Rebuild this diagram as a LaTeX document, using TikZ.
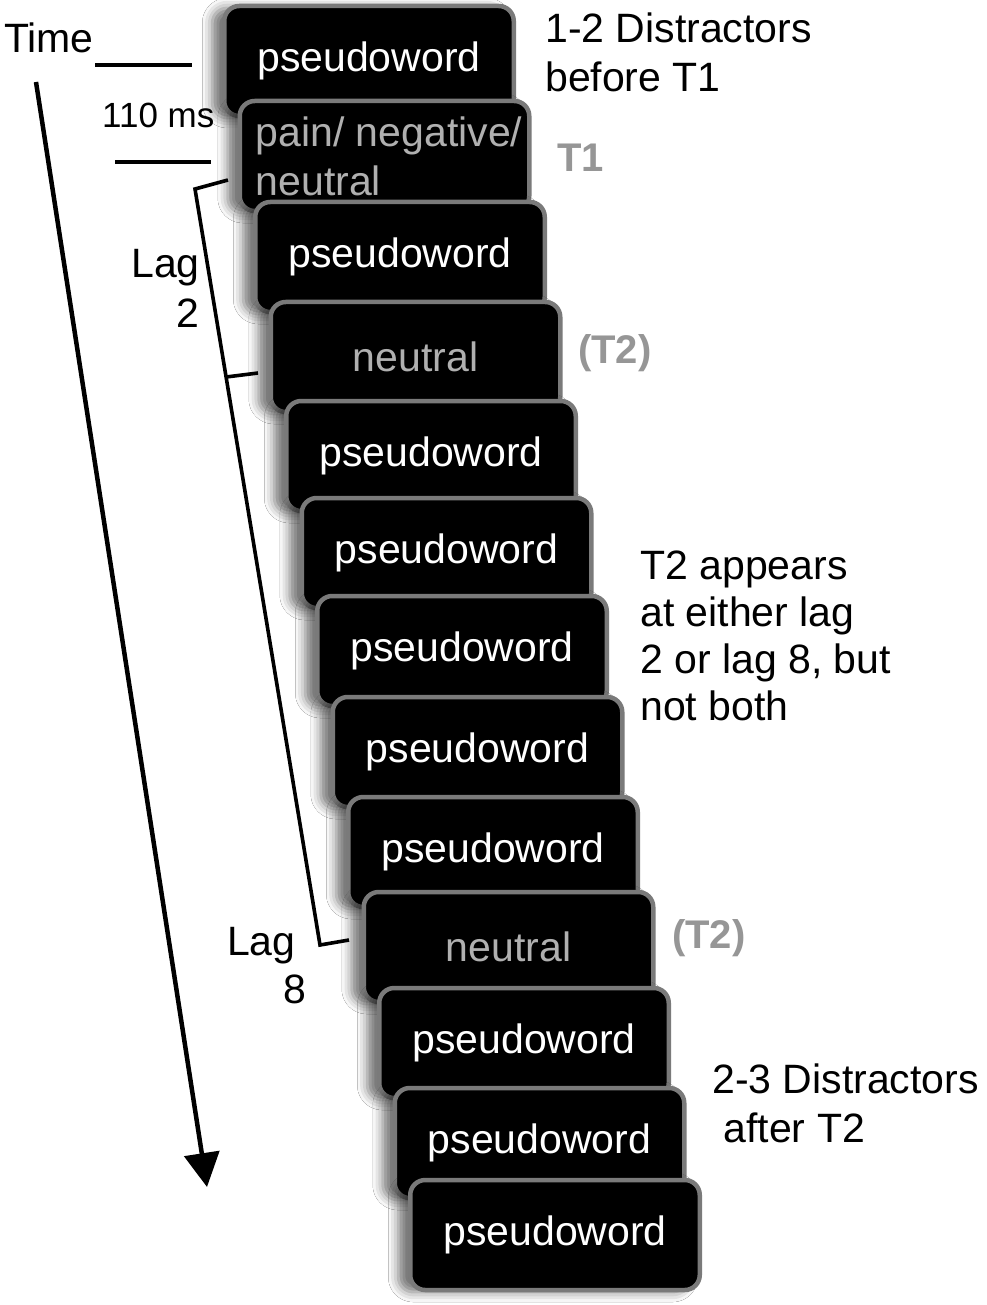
\documentclass[tikz,border=0pt]{standalone}
\usepackage{fontspec}
\setmainfont{Liberation Sans}
\usetikzlibrary{arrows.meta,shadows.blur}

\definecolor{frameline}{RGB}{122,122,122}
\definecolor{dimword}{RGB}{176,176,176}
\definecolor{targetmark}{RGB}{150,150,150}

\tikzset{
  word/.style={font=\fontsize{41}{49}\selectfont, inner sep=0pt},
  slide/.style={word, draw=frameline, line width=4.5pt, fill=black, text=white,
    rounded corners=15pt, minimum width=289.5pt, minimum height=110pt,
    blur shadow={shadow xshift=-12pt, shadow yshift=-2pt,
                 shadow blur radius=10pt, shadow opacity=55}},
  targetslide/.style={slide, text=dimword},
  tag/.style={font=\fontsize{40}{48}\selectfont\bfseries, text=targetmark, inner sep=0pt},
  rulestroke/.style={line width=3.6pt},
}

\begin{document}
\begin{tikzpicture}[x=1pt,y=-1pt]
\useasboundingbox[fill=white] (0,0) rectangle (986,1305);

% stream of slides, each one laid over the previous
\node[slide] (s1) at (369,61) {pseudoword};
\node[slide] (s2) at (384.5,156) {};
\node[word, text=dimword, align=left, anchor=west] (s2txt)
  at ([xshift=18pt,yshift=0pt]s2.west) {pain/ negative/\\neutral};
\node[slide] (s3) at (400,257) {pseudoword};
\node[targetslide] (s4) at (415.5,357) {neutral};
\node[slide] (s5) at (431,456) {pseudoword};
\node[slide] (s6) at (446.5,553) {pseudoword};
\node[slide] (s7) at (462,651) {pseudoword};
\node[slide] (s8) at (477.5,752) {pseudoword};
\node[slide] (s9) at (493,852) {pseudoword};
\node[targetslide] (s10) at (508.5,947) {neutral};
\node[slide] (s11) at (524,1043) {pseudoword};
\node[slide] (s12) at (539.5,1143) {pseudoword};
\node[slide] (s13) at (555,1235) {pseudoword};

% target marks
\node[tag, anchor=base west] (t1) at (557,172) {T1};
\node[tag, anchor=base west] (t2a) at (578,363) {(T2)};
\node[tag, anchor=base west] (t2b) at (672,948) {(T2)};

% notes on the right (anchored at the baseline of their last line)
\node[word, align=left, anchor=base west] (pre) at (545,92)
  {1-2 Distractors\\before T1};
\node[word, font=\fontsize{41}{46.7}\selectfont, align=left, anchor=base west] (lagnote)
  at (640,720) {T2 appears\\at either lag\\2 or lag 8, but\\not both};
\node[word, align=left, anchor=base west] (post) at (712,1142)
  {2-3 Distractors\\\ after T2};

% time axis and duration marks
\node[word, anchor=base west] (time) at (4,53) {Time};
\node[word, font=\fontsize{35}{42}\selectfont, anchor=base west] (dur) at (102,128) {110 ms};
\coordinate (d1a) at (95,65);
\coordinate (d1b) at (192,65);
\coordinate (d2a) at (115,162);
\coordinate (d2b) at (211,162);
\draw[rulestroke] (d1a) -- (d1b);
\draw[rulestroke] (d2a) -- (d2b);

\coordinate (arrtop) at (36,82);
\coordinate (arrtip) at (207,1187);
\draw[line width=4.5pt, -{Triangle[length=34pt,width=35pt]}] (arrtop) -- (arrtip);

% lag bracket
\coordinate (brA) at (228,180);
\coordinate (brB) at (195,189);
\coordinate (brC) at (320,945);
\coordinate (brD) at (349,940);
\coordinate (brM) at (226,377);
\coordinate (brN) at (258,373);
\draw[rulestroke, line join=miter] (brA) -- (brB) -- (brC) -- (brD);
\draw[rulestroke] (brM) -- (brN);

\node[word, font=\fontsize{41}{50}\selectfont, align=right, anchor=base east] (lag2) at (200,327) {Lag\\2};
\node[word, font=\fontsize{41}{48}\selectfont, align=left, anchor=base west] (lag8) at (227,1003) {Lag\\\hspace*{56pt}8};
\end{tikzpicture}
\end{document}
